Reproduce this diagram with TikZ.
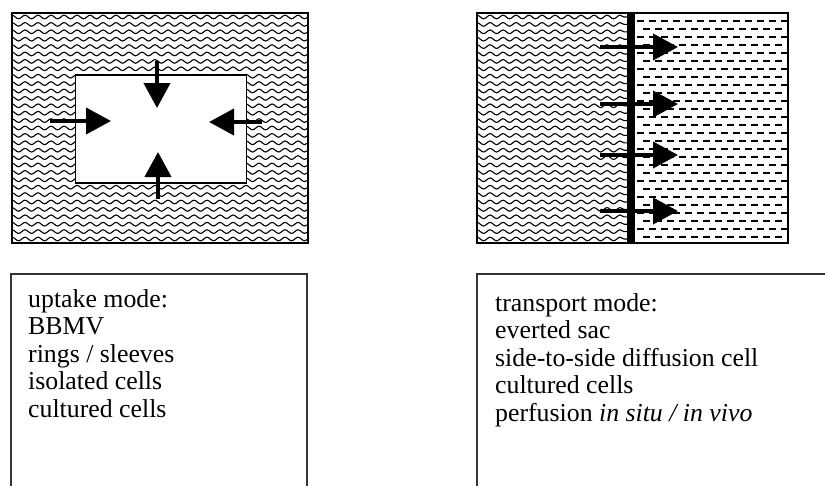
\documentclass[tikz,border=0pt]{standalone}
\usepackage{fontspec}
\setmainfont{Liberation Serif}
\usetikzlibrary{decorations.pathmorphing,arrows.meta}
\begin{document}
\begin{tikzpicture}[x=1pt,y=-1pt,
  frame/.style={draw=black,line width=1.6pt},
  boxline/.style={draw=black!80,line width=1.3pt},
  wave/.style={line width=1.1pt,decorate,decoration={snake,amplitude=1.8pt,segment length=13pt}},
  dashrow/.style={line width=1.7pt,dash pattern=on 7pt off 5pt},
  flux/.style={line width=4pt,-{Triangle[length=25pt,width=26pt]}},
  lbl/.style={anchor=base west,inner sep=0pt,font=\fontsize{25.8}{27.5}\selectfont}]
\useasboundingbox (0,0) rectangle (825,485);

% ---------- top left: uptake ----------
\begin{scope}
  \clip (12,13) rectangle (308,243);
  \foreach \r in {0,...,30}
    \draw[wave] (8,{17+\r*7.4}) -- (312,{17+\r*7.4});
\end{scope}
\draw[frame] (12,13) rectangle (308,243);
\node[frame,fill=white,minimum width=171pt,minimum height=108pt,inner sep=0pt,anchor=north west] (cell) at (74.5,74) {};

\coordinate (tA) at (157,61);  \coordinate (tB) at (157,108);
\coordinate (lA) at (50,121);  \coordinate (lB) at (111,121);
\coordinate (rA) at (262,122); \coordinate (rB) at (209,122);
\coordinate (bA) at (158,199); \coordinate (bB) at (158,152);
\draw[flux] (tA) -- (tB);
\draw[flux] (lA) -- (lB);
\draw[flux] (rA) -- (rB);
\draw[flux] (bA) -- (bB);

% ---------- top right: transport ----------
\begin{scope}
  \clip (477,13) rectangle (627,243);
  \foreach \r in {0,...,30}
    \draw[wave] (473,{17+\r*7.4}) -- (630,{17+\r*7.4});
\end{scope}
\begin{scope}
  \clip (635,13) rectangle (788,243);
  \foreach \r in {0,2,...,26}
    \draw[dashrow] (637,{21+\r*8}) -- (792,{21+\r*8});
  \foreach \r in {1,3,...,27}
    \draw[dashrow] (643,{21+\r*8}) -- (792,{21+\r*8});
\end{scope}
\fill (627,13) rectangle (635,243);
\draw[frame] (477,13) rectangle (788,243);

\foreach \i/\yy in {1/47,2/104,3/155,4/211}{
  \coordinate (s\i) at (600,\yy);
  \coordinate (e\i) at (678,\yy);
  \draw[flux] (s\i) -- (e\i);
}

% ---------- bottom boxes ----------
\draw[boxline] (11,488) |- (307,274) -- (307,488);
\draw[boxline] (477,488) |- (828,274);

\node[lbl] (u1) at (28,307) {uptake mode:};
\node[lbl] (u2) at (28,334.5) {BBMV};
\node[lbl] (u3) at (28,362) {rings / sleeves};
\node[lbl] (u4) at (28,389.5) {isolated cells};
\node[lbl] (u5) at (28,417) {cultured cells};

\node[lbl] (t1) at (495,311) {transport mode:};
\node[lbl] (t2) at (495,338.5) {everted sac};
\node[lbl] (t3) at (495,366) {side-to-side diffusion cell};
\node[lbl] (t4) at (495,393.5) {cultured cells};
\node[lbl] (t5) at (495,421) {perfusion \textit{in situ / in vivo}};
\end{tikzpicture}
\end{document}
